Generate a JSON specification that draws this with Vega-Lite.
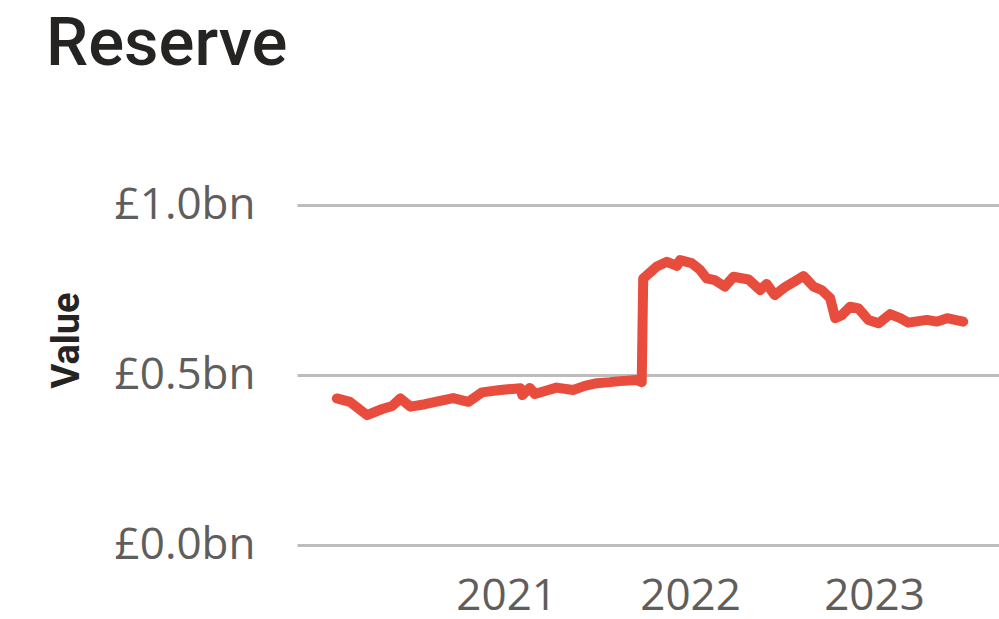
{
  "$schema": "https://vega.github.io/schema/vega-lite/v6.json",
  "width": 702,
  "height": 340,
  "autosize": {"type": "none"},
  "padding": {"left": 297, "top": 205, "right": 0, "bottom": 74},
  "background": "white",
  "title": {
    "text": "Reserve",
    "anchor": "start",
    "frame": "group",
    "font": "Roboto",
    "fontSize": 67,
    "fontWeight": 500,
    "color": "#252423",
    "baseline": "alphabetic",
    "dx": -251,
    "dy": -47
  },
  "config": {"view": {"stroke": null}},
  "data": {
    "values": [
      {"date": "2020-01-31", "value": 0.431},
      {"date": "2020-02-26", "value": 0.421},
      {"date": "2020-03-31", "value": 0.382},
      {"date": "2020-04-30", "value": 0.400},
      {"date": "2020-05-20", "value": 0.409},
      {"date": "2020-06-05", "value": 0.431},
      {"date": "2020-06-25", "value": 0.407},
      {"date": "2020-07-24", "value": 0.414},
      {"date": "2020-08-23", "value": 0.424},
      {"date": "2020-09-18", "value": 0.432},
      {"date": "2020-10-18", "value": 0.421},
      {"date": "2020-11-14", "value": 0.449},
      {"date": "2020-12-20", "value": 0.456},
      {"date": "2021-01-13", "value": 0.459},
      {"date": "2021-01-29", "value": 0.461},
      {"date": "2021-02-02", "value": 0.441},
      {"date": "2021-02-17", "value": 0.462},
      {"date": "2021-02-27", "value": 0.444},
      {"date": "2021-03-19", "value": 0.453},
      {"date": "2021-04-11", "value": 0.463},
      {"date": "2021-05-14", "value": 0.456},
      {"date": "2021-06-06", "value": 0.468},
      {"date": "2021-06-30", "value": 0.476},
      {"date": "2021-07-26", "value": 0.479},
      {"date": "2021-08-15", "value": 0.482},
      {"date": "2021-09-17", "value": 0.485},
      {"date": "2021-09-27", "value": 0.479},
      {"date": "2021-09-30", "value": 0.784},
      {"date": "2021-10-27", "value": 0.819},
      {"date": "2021-11-16", "value": 0.833},
      {"date": "2021-12-06", "value": 0.821},
      {"date": "2021-12-12", "value": 0.838},
      {"date": "2022-01-04", "value": 0.829},
      {"date": "2022-01-21", "value": 0.809},
      {"date": "2022-02-03", "value": 0.784},
      {"date": "2022-02-19", "value": 0.779},
      {"date": "2022-03-11", "value": 0.760},
      {"date": "2022-03-28", "value": 0.789},
      {"date": "2022-04-27", "value": 0.781},
      {"date": "2022-05-20", "value": 0.750},
      {"date": "2022-06-02", "value": 0.768},
      {"date": "2022-06-18", "value": 0.735},
      {"date": "2022-07-08", "value": 0.758},
      {"date": "2022-07-28", "value": 0.776},
      {"date": "2022-08-14", "value": 0.791},
      {"date": "2022-09-03", "value": 0.760},
      {"date": "2022-09-19", "value": 0.750},
      {"date": "2022-10-06", "value": 0.726},
      {"date": "2022-10-16", "value": 0.667},
      {"date": "2022-10-29", "value": 0.676},
      {"date": "2022-11-15", "value": 0.701},
      {"date": "2022-12-01", "value": 0.696},
      {"date": "2022-12-21", "value": 0.662},
      {"date": "2023-01-10", "value": 0.652},
      {"date": "2023-02-02", "value": 0.679},
      {"date": "2023-02-22", "value": 0.667},
      {"date": "2023-03-10", "value": 0.654},
      {"date": "2023-04-16", "value": 0.662},
      {"date": "2023-05-06", "value": 0.657},
      {"date": "2023-05-26", "value": 0.667},
      {"date": "2023-06-27", "value": 0.657}
    ]
  },
  "mark": {"type": "line", "color": "#E84C3D", "strokeWidth": 10, "strokeCap": "round", "strokeJoin": "round", "clip": false},
  "encoding": {
    "x": {
      "field": "date",
      "type": "temporal",
      "scale": {"domain": ["2019-11-13", "2023-09-06"]},
      "axis": {
        "title": null,
        "grid": false,
        "domain": false,
        "ticks": false,
        "values": ["2021-01-01", "2022-01-01", "2023-01-01"],
        "format": "%Y",
        "labelFont": "Open Sans",
        "labelFontSize": 44,
        "labelColor": "#605E5C",
        "labelPadding": 29,
        "labelAlign": "center"
      }
    },
    "y": {
      "field": "value",
      "type": "quantitative",
      "scale": {"domain": [0, 1]},
      "axis": {
        "title": "Value",
        "titleFont": "Roboto",
        "titleFontSize": 38,
        "titleFontWeight": "bold",
        "titleColor": "#252423",
        "titleAngle": 270,
        "titleAlign": "center",
        "titleBaseline": "middle",
        "titleX": -230,
        "titleY": 135,
        "values": [0, 0.5, 1],
        "labelExpr": "'£' + format(datum.value, '.1f') + 'bn'",
        "labelFont": "Open Sans",
        "labelFontSize": 44,
        "labelColor": "#605E5C",
        "labelPadding": 42,
        "domain": false,
        "ticks": false,
        "grid": true,
        "gridColor": "#BDBDBD",
        "gridWidth": 3
      }
    }
  }
}
